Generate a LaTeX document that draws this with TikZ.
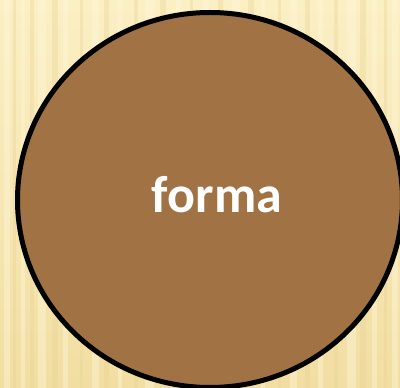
\documentclass[tikz,border=0pt]{standalone}
\usepackage{fontspec}
\setmainfont{Carlito}
\definecolor{woodtop}{HTML}{FBEFC4}
\definecolor{woodbottom}{HTML}{F2DEA2}
\definecolor{woodlight}{HTML}{FEF6D8}
\definecolor{wooddark}{HTML}{E8D394}
\definecolor{formabrown}{HTML}{A07244}
\usetikzlibrary{shapes.geometric}
\tikzset{
    formacircle/.style={draw=black, fill=formabrown, line width=5pt,
        ellipse, minimum width=385pt, minimum height=375pt, inner sep=0pt},
    formalabel/.style={text=white, font=\fontsize{52}{60}\selectfont\bfseries}
}
\begin{document}
\begin{tikzpicture}[x=1pt, y=1pt]
\useasboundingbox (0,0) rectangle (400,388);
% wood background
\shade[top color=woodtop, bottom color=woodbottom] (0,0) rectangle (400,388);
\foreach \sx/\sw in {4/6, 21/4, 38/8, 63/5, 92/7, 118/4, 145/9, 176/5, 203/6, 232/8, 261/4, 290/7, 318/5, 347/9, 372/5, 392/6}
    \fill[woodlight, opacity=0.45] (\sx,0) rectangle ++(\sw,388);
\foreach \sx/\sw in {13/3, 30/4, 52/6, 80/3, 104/5, 134/4, 160/6, 190/3, 218/5, 248/6, 278/3, 305/5, 334/4, 360/6, 384/3}
    \fill[wooddark, opacity=0.35] (\sx,0) rectangle ++(\sw,388);
% circle
\node[formacircle] (forma) at (210,188) {};
\node[formalabel, anchor=base] (formatext) at (217,175) {forma};
\end{tikzpicture}
\end{document}
